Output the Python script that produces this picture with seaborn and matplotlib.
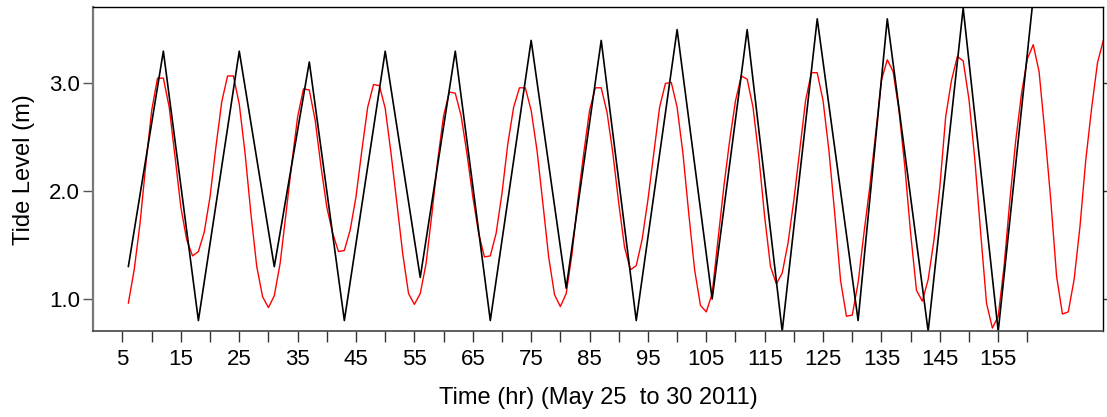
import matplotlib
matplotlib.use("Agg")
import matplotlib.pyplot as plt
import seaborn as sns
import numpy as np
import pandas as pd

# Predicted high/low tides (black)
peak_hours = [6, 12, 18, 25, 31, 37, 43, 50, 56, 62, 68, 75, 81, 87, 93,
              100, 106, 112, 118, 124, 131, 136, 143, 149, 155, 161]
peak_levels = [1.3, 3.3, 0.8, 3.3, 1.3, 3.2, 0.8, 3.3, 1.2, 3.3, 0.8, 3.4, 1.1,
               3.4, 0.8, 3.5, 1.0, 3.5, 0.7, 3.6, 0.8, 3.6, 0.7, 3.7, 0.7, 3.8]

# Hourly modelled tide level (red), hours 6..173
hourly_hours = list(range(6, 174))
hourly_levels = [
    0.96, 1.27, 1.70, 2.25, 2.75, 3.05, 3.05, 2.78, 2.32, 1.85,   # 6-15
    1.55, 1.40, 1.44, 1.62, 1.95, 2.41, 2.83, 3.07, 3.07, 2.81,   # 16-25
    2.35, 1.79, 1.30, 1.02, 0.92, 1.03, 1.33, 1.79, 2.26, 2.69,   # 26-35
    2.95, 2.94, 2.66, 2.23, 1.85, 1.61, 1.44, 1.45, 1.64, 1.95,   # 36-45
    2.38, 2.78, 2.99, 2.98, 2.77, 2.35, 1.89, 1.42, 1.05, 0.95,   # 46-55
    1.05, 1.33, 1.79, 2.29, 2.70, 2.92, 2.91, 2.70, 2.35, 1.95,   # 56-65
    1.61, 1.39, 1.40, 1.61, 1.98, 2.44, 2.78, 2.96, 2.96, 2.75,   # 66-75
    2.38, 1.89, 1.39, 1.04, 0.93, 1.05, 1.42, 1.92, 2.35, 2.75,   # 76-85
    2.96, 2.96, 2.73, 2.35, 1.89, 1.48, 1.27, 1.31, 1.55, 1.92,   # 86-95
    2.35, 2.78, 3.00, 3.01, 2.78, 2.35, 1.79, 1.27, 0.94, 0.88,   # 96-105
    1.05, 1.55, 2.04, 2.47, 2.84, 3.07, 3.04, 2.78, 2.32, 1.76,   # 106-115
    1.30, 1.14, 1.24, 1.52, 1.92, 2.38, 2.84, 3.10, 3.10, 2.84,   # 116-125
    2.38, 1.79, 1.17, 0.84, 0.85, 1.15, 1.61, 2.04, 2.53, 3.03,   # 126-135
    3.22, 3.11, 2.75, 2.23, 1.61, 1.08, 0.98, 1.18, 1.55, 2.04,   # 136-145
    2.69, 3.03, 3.25, 3.21, 2.85, 2.29, 1.61, 0.96, 0.73, 0.84,   # 146-155
    1.30, 1.92, 2.47, 2.91, 3.23, 3.36, 3.11, 2.54, 1.92, 1.21,   # 156-165
    0.86, 0.88, 1.18, 1.67, 2.29, 2.77, 3.19, 3.40,               # 166-173
]

x_ticks = list(range(5, 161, 5))
x_labels = [str(t) if (t - 5) % 10 == 0 else "" for t in x_ticks]
y_ticks = [1.0, 2.0, 3.0]
y_labels = ["1.0", "2.0", "3.0"]

sns.set_style("ticks")
plt.rcParams["font.family"] = ["Liberation Sans", "DejaVu Sans"]
plt.rcParams["text.color"] = "black"
plt.rcParams["axes.labelcolor"] = "black"

fig = plt.figure(figsize=(11.07, 4.17), dpi=100)
ax = fig.add_axes([93.3 / 1107, 1 - 331.3 / 417, (1103.3 - 93.3) / 1107, (331.3 - 7) / 417])

df_h = pd.DataFrame({"hour": hourly_hours, "level": hourly_levels})
df_p = pd.DataFrame({"hour": peak_hours, "level": peak_levels})

sns.lineplot(data=df_h, x="hour", y="level", ax=ax, color="#ff0000", linewidth=1.0)
sns.lineplot(data=df_p, x="hour", y="level", ax=ax, color="black", linewidth=1.2)

ax.set_xlim(0, 173)
ax.set_ylim(0.70, 3.71)

ax.set_xticks(x_ticks)
ax.set_xticklabels(x_labels, fontsize=16)
ax.set_yticks(y_ticks)
ax.set_yticklabels(y_labels, fontsize=16)

ax.tick_params(axis="x", direction="out", length=8, width=1, color="#333333",
               labelcolor="black", pad=5)
ax.tick_params(axis="y", direction="out", length=7.5, width=1, color="#555555",
               labelcolor="black", pad=2)

sec = ax.secondary_yaxis("right")
sec.set_yticks(y_ticks)
sec.set_yticklabels([])
sec.tick_params(direction="out", length=4, width=1, color="#333333")
sec.spines["right"].set_visible(False)

for side in ["top", "right"]:
    ax.spines[side].set_visible(True)
    ax.spines[side].set_color("black")
    ax.spines[side].set_linewidth(1.0)
ax.spines["left"].set_color("#777777")
ax.spines["left"].set_linewidth(1.6)
ax.spines["bottom"].set_color("#444444")
ax.spines["bottom"].set_linewidth(1.2)

ax.set_xlabel("Time (hr) (May 25  to 30 2011)", fontsize=17, labelpad=12, color="black")
ax.set_ylabel("Tide Level (m)", fontsize=17, labelpad=10, color="black")

fig.savefig("out.png", dpi=100)
